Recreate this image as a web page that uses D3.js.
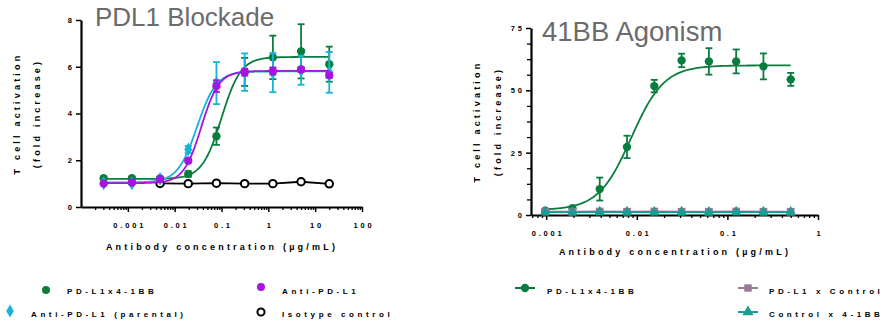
<!DOCTYPE html>
<html>
<head>
  <meta charset="utf-8">
  <title>PDL1 Blockade / 41BB Agonism</title>
  <style>
    body { margin: 0; background: #fff; }
    text { font-family: "Liberation Sans", Arial, sans-serif; }
  </style>
</head>
<body>
<script src="https://d3js.org/d3.v7.min.js"></script>
<script>
  var width = 887;
  var height = 322;

  // ---- left panel: PDL1 Blockade ----
  var concL = [0.000305, 0.00122, 0.00488, 0.0195, 0.078, 0.3125, 1.25, 5, 20];
  var bispecL = [1.23, 1.23, 1.22, 1.41, 3.03, 5.78, 6.40, 6.66, 6.11];
  var bispecErrL = [0.05, 0.05, 0.05, 0.12, 0.37, 0.6, 0.93, 1.16, 0.75];
  var parentalL = [1.01, 1.01, 1.2, 2.46, 5.3, 5.77, 5.75, 5.85, 5.76];
  var parentalErrL = [0.05, 0.05, 0.08, 0.15, 0.9, 0.8, 0.84, 0.62, 0.87];
  var antiPdl1L = [1.0, 1.05, 1.2, 1.98, 5.17, 5.77, 5.82, 5.88, 5.63];
  var antiPdl1ErrL = [0.05, 0.05, 0.05, 0.08, 0.25, 0.15, 0.15, 0.1, 0.1];
  var isoConcL = [0.00488, 0.0195, 0.078, 0.3125, 1.25, 5, 20];
  var isotypeL = [1.01, 1.0, 1.02, 1.0, 1.0, 1.08, 0.99];
  // 4PL fit params: bottom, top, EC50, hill
  var fitBispecL = [1.2, 6.42, 0.1, 2.1];
  var fitParentalL = [1.05, 5.8, 0.03, 2.1];
  var fitAntiPdl1L = [1.02, 5.82, 0.037, 2.3];
  var xTicksL = [0.001, 0.01, 0.1, 1, 10, 100];
  var xTickLabelsL = ['0.001', '0.01', '0.1', '1', '10', '100'];
  var yTicksL = [0, 2, 4, 6, 8];

  // ---- right panel: 41BB Agonism ----
  var concR = [0.000977, 0.00195, 0.0039, 0.0078, 0.0156, 0.03125, 0.0625, 0.125, 0.25, 0.5];
  var bispecR = [1.7, 2.7, 10.4, 27.3, 51.7, 62, 61.6, 61.6, 59.6, 54.4];
  var bispecErrR = [0.5, 0.6, 4.6, 4.5, 2.5, 2.7, 5.3, 4.8, 5.2, 2.6];
  var pdl1CtrlR = [1.3, 1.3, 1.4, 1.3, 1.4, 1.3, 1.3, 1.4, 1.3, 1.3];
  var ctrl41bbR = [1.2, 1.1, 1.2, 1.2, 1.1, 1.2, 1.1, 1.2, 1.2, 1.1];
  var fitBispecR = [2, 60, 0.0087, 2.4];
  var xTicksR = [0.001, 0.01, 0.1, 1];
  var xTickLabelsR = ['0.001', '0.01', '0.1', '1'];
  var yTicksR = [0, 25, 50, 75];
  var yMinorR = [6.25, 12.5, 18.75, 31.25, 37.5, 43.75, 56.25, 62.5, 68.75];

  var green = '#0a7d3e';
  var purple = '#a514e0';
  var cyan = '#14b4d8';
  var mauve = '#9c7897';
  var teal = '#189e92';

  var svg = d3.select('body')
    .append('svg')
      .attr('width', width)
      .attr('height', height);

  var xL = d3.scaleLog().domain([1e-4, 100]).range([81, 362]);
  var yL = d3.scaleLinear().domain([0, 8]).range([207, 20]);
  var xR = d3.scaleLog().domain([0.00068, 1]).range([531, 818]);
  var yR = d3.scaleLinear().domain([0, 75]).range([215, 28]);

  function logistic(p) {
    return function(c) {
      return p[0] + (p[1] - p[0]) / (1 + Math.pow(p[2] / c, p[3]));
    };
  }

  function minorTicks(x) {
    var d = x.domain(), out = [];
    for (var e = Math.floor(Math.log10(d[0])); e <= Math.ceil(Math.log10(d[1])); e++) {
      for (var k = 2; k <= 9; k++) {
        var v = k * Math.pow(10, e);
        if (v > d[0] && v < d[1]) out.push(v);
      }
    }
    return out;
  }

  function drawAxes(x, y, xTicks, xLabels, yTicks, yMinor, opt) {
    var y0 = y.range()[0];
    var x0 = x.range()[0];
    var g = svg.append('g');

    // x minor ticks
    g.append('g')
      .attr('transform', 'translate(0,' + y0 + ')')
      .call(d3.axisBottom(x).tickValues(minorTicks(x)).tickSize(3).tickFormat(''))
      .call(function(a) { a.select('.domain').remove(); })
      .selectAll('line').attr('stroke-width', 1.3);

    var xa = g.append('g')
      .attr('transform', 'translate(0,' + y0 + ')')
      .call(d3.axisBottom(x).tickValues(xTicks).tickSize(5)
        .tickSizeOuter(0).tickFormat(function(d, i) { return xLabels[i]; }));
    xa.select('.domain').attr('stroke-width', 2.2);
    xa.selectAll('line').attr('stroke-width', 1.5);
    xa.selectAll('text')
      .attr('y', opt.xLabelDy)
      .attr('dy', 0)
      .attr('dx', 1.4)
      .style('font-size', '7.5px')
      .style('font-weight', 'bold')
      .style('letter-spacing', '2.8px');

    if (yMinor) {
      g.append('g')
        .attr('transform', 'translate(' + x0 + ',0)')
        .call(d3.axisLeft(y).tickValues(yMinor).tickSize(4).tickFormat(''))
        .call(function(a) { a.select('.domain').remove(); })
        .selectAll('line').attr('stroke-width', 1.3);
    }

    var ya = g.append('g')
      .attr('transform', 'translate(' + x0 + ',0)')
      .call(d3.axisLeft(y).tickValues(yTicks).tickSize(5).tickSizeOuter(0));
    ya.select('.domain').attr('stroke-width', 2.2);
    ya.selectAll('line').attr('stroke-width', 1.5);
    ya.selectAll('text')
      .attr('x', -9)
      .attr('dx', 2.8)
      .style('font-size', '7.5px')
      .style('font-weight', 'bold')
      .style('letter-spacing', '2.8px');

    g.selectAll('.tick text').attr('fill', '#000');
    g.selectAll('line, path').attr('stroke', '#000');

    // axis titles
    var cy = (y.range()[0] + y.range()[1]) / 2;
    [['T cell activation', opt.yTitleX[0]], ['(fold increase)', opt.yTitleX[1]]].forEach(function(t) {
      svg.append('text')
        .attr('transform', 'translate(' + t[1] + ',' + cy + ') rotate(-90)')
        .attr('text-anchor', 'middle')
        .style('font-size', '9px')
        .style('font-weight', 'bold')
        .style('letter-spacing', '3.2px')
        .text(t[0]);
    });
    svg.append('text')
      .attr('x', opt.xTitleX)
      .attr('y', opt.xTitleY)
      .attr('text-anchor', 'middle')
      .style('font-size', '9px')
      .style('font-weight', 'bold')
      .style('letter-spacing', '3.2px')
      .text('Antibody concentration (µg/mL)');

    svg.append('text')
      .attr('x', opt.titleX)
      .attr('y', opt.titleY)
      .attr('fill', '#6b6b6b')
      .style('font-size', opt.titleSize)
      .text(opt.title);
  }

  function drawFit(x, y, p, lo, hi, color) {
    var f = logistic(p);
    var pts = d3.range(0, 201).map(function(i) {
      var c = Math.pow(10, Math.log10(lo) + (Math.log10(hi) - Math.log10(lo)) * i / 200);
      return [x(c), y(f(c))];
    });
    svg.append('path')
      .attr('d', d3.line()(pts))
      .attr('fill', 'none')
      .attr('stroke', color)
      .attr('stroke-width', 1.8);
  }

  function drawErr(x, y, conc, vals, errs, color) {
    var g = svg.append('g').attr('stroke', color).attr('stroke-width', 1.8);
    conc.forEach(function(c, i) {
      var cx = x(c), t = y(vals[i] + errs[i]), b = y(vals[i] - errs[i]);
      g.append('line').attr('x1', cx).attr('x2', cx).attr('y1', t).attr('y2', b);
      g.append('line').attr('x1', cx - 3.5).attr('x2', cx + 3.5).attr('y1', t).attr('y2', t);
      g.append('line').attr('x1', cx - 3.5).attr('x2', cx + 3.5).attr('y1', b).attr('y2', b);
    });
  }

  function drawPoints(x, y, conc, vals, type, size, color, open) {
    svg.append('g').selectAll('path')
      .data(conc)
      .enter()
      .append('path')
      .attr('transform', function(c, i) { return 'translate(' + x(c) + ',' + y(vals[i]) + ')'; })
      .attr('d', d3.symbol().type(type).size(size))
      .attr('fill', open ? '#fff' : color)
      .attr('stroke', open ? color : 'none')
      .attr('stroke-width', open ? 2 : 0);
  }

  function drawLine(x, y, conc, vals, color, w) {
    svg.append('path')
      .attr('d', d3.line()(conc.map(function(c, i) { return [x(c), y(vals[i])]; })))
      .attr('fill', 'none')
      .attr('stroke', color)
      .attr('stroke-width', w);
  }

  // ---- left panel ----
  drawAxes(xL, yL, xTicksL, xTickLabelsL, yTicksL, null, {
    xLabelDy: 21, yTitleX: [20, 40], xTitleX: 222, xTitleY: 250,
    titleX: 95, titleY: 26, title: 'PDL1 Blockade', titleSize: '26px'
  });
  drawLine(xL, yL, isoConcL, isotypeL, '#000', 1.8);
  drawPoints(xL, yL, isoConcL, isotypeL, d3.symbolCircle, 44, '#000', true);
  var lo = concL[0], hi = concL[concL.length - 1];
  drawFit(xL, yL, fitBispecL, lo, hi, green);
  drawErr(xL, yL, concL, bispecL, bispecErrL, green);
  drawPoints(xL, yL, concL, bispecL, d3.symbolCircle, 55, green);
  drawFit(xL, yL, fitParentalL, lo, hi, cyan);
  drawErr(xL, yL, concL, parentalL, parentalErrL, cyan);
  drawPoints(xL, yL, concL, parentalL, d3.symbolDiamond, 55, cyan);
  drawFit(xL, yL, fitAntiPdl1L, lo, hi, purple);
  drawErr(xL, yL, concL, antiPdl1L, antiPdl1ErrL, purple);
  drawPoints(xL, yL, concL, antiPdl1L, d3.symbolCircle, 55, purple);

  // ---- right panel ----
  drawAxes(xR, yR, xTicksR, xTickLabelsR, yTicksR, yMinorR, {
    xLabelDy: 21, yTitleX: [480, 501], xTitleX: 675, xTitleY: 255,
    titleX: 542, titleY: 41, title: '41BB Agonism', titleSize: '27.5px'
  });
  drawFit(xR, yR, fitBispecR, concR[0], concR[concR.length - 1], green);
  drawErr(xR, yR, concR, bispecR, bispecErrR, green);
  drawPoints(xR, yR, concR, bispecR, d3.symbolCircle, 55, green);
  drawLine(xR, yR, concR, pdl1CtrlR, mauve, 2);
  drawPoints(xR, yR, concR, pdl1CtrlR, d3.symbolSquare, 60, mauve);
  drawLine(xR, yR, concR, ctrl41bbR, teal, 2);
  drawPoints(xR, yR, concR, ctrl41bbR, d3.symbolTriangle, 50, teal);

  // ---- legends ----
  var legendL = [
    { label: 'PD-L1x4-1BB', color: green, type: d3.symbolCircle, open: false, mx: 46, my: 290, tx: 67, ty: 294 },
    { label: 'Anti-PD-L1', color: purple, type: d3.symbolCircle, open: false, mx: 261, my: 287, tx: 282, ty: 294 },
    { label: 'Anti-PD-L1 (parental)', color: cyan, type: d3.symbolDiamond, open: false, mx: 10, my: 311, tx: 31, ty: 317 },
    { label: 'Isotype control', color: '#000', type: d3.symbolCircle, open: true, mx: 261, my: 312, tx: 282, ty: 317 }
  ];
  var legendR = [
    { label: 'PD-L1x4-1BB', color: green, type: d3.symbolCircle, mx: 525, my: 288, tx: 547, ty: 294 },
    { label: 'PD-L1 x Control', color: mauve, type: d3.symbolSquare, mx: 748, my: 288, tx: 769, ty: 294 },
    { label: 'Control x 4-1BB', color: teal, type: d3.symbolTriangle, mx: 748, my: 312, tx: 769, ty: 317 }
  ];

  function legendText(d) {
    svg.append('text')
      .attr('x', d.tx)
      .attr('y', d.ty)
      .style('font-size', '8px')
      .style('font-weight', 'bold')
      .style('letter-spacing', '3.6px')
      .text(d.label);
  }

  legendL.forEach(function(d) {
    svg.append('path')
      .attr('transform', 'translate(' + d.mx + ',' + d.my + ')')
      .attr('d', d3.symbol().type(d.type).size(d.open ? 40 : 50))
      .attr('fill', d.open ? '#fff' : d.color)
      .attr('stroke', d.open ? d.color : 'none')
      .attr('stroke-width', d.open ? 2 : 0);
    legendText(d);
  });

  legendR.forEach(function(d) {
    svg.append('line')
      .attr('x1', d.mx - 10).attr('x2', d.mx + 10)
      .attr('y1', d.my).attr('y2', d.my)
      .attr('stroke', d.color).attr('stroke-width', 2);
    svg.append('path')
      .attr('transform', 'translate(' + d.mx + ',' + d.my + ')')
      .attr('d', d3.symbol().type(d.type).size(55))
      .attr('fill', d.color);
    legendText(d);
  });
</script>
</body>
</html>
